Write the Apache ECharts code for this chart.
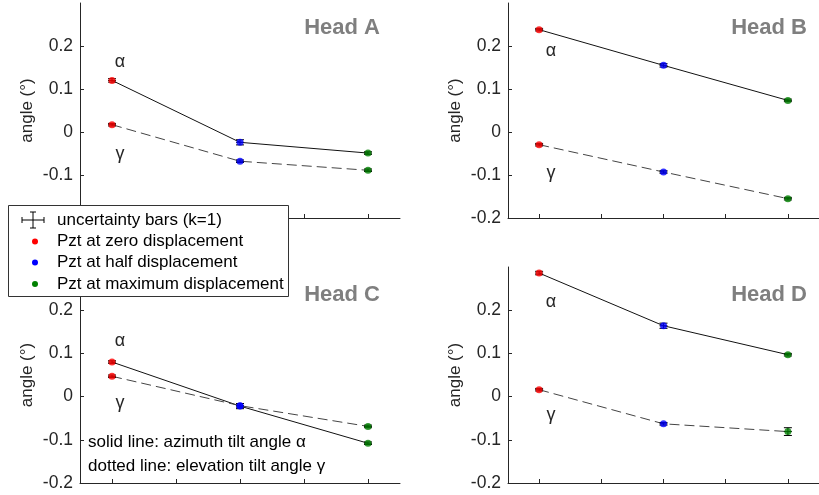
<!DOCTYPE html>
<html>
<head>
<meta charset="utf-8">
<script src="https://cdn.jsdelivr.net/npm/echarts@6/dist/echarts.min.js"></script>
<style>
  html, body { margin: 0; padding: 0; background: #fff; }
  #chart { width: 819px; height: 495px; }
</style>
</head>
<body>
<div id="chart"></div>
<script>
// x positions of the three pzt states
var xPos = [1, 3, 5];
var pointColors = ["#ff0000", "#0000ff", "#008000"];
var heads = ["Head A", "Head B", "Head C", "Head D"];
var yTicks = [-0.2, -0.1, 0, 0.1, 0.2];
var xTicks = [1, 2, 3, 4, 5];

// azimuth tilt alpha / elevation tilt gamma, with k=1 uncertainty
var alphaA = [0.12, -0.024, -0.049];
var gammaA = [0.017, -0.068, -0.089];
var errAlphaA = [0.004, 0.006, 0.003];
var errGammaA = [0.003, 0.003, 0.003];

var alphaB = [0.238, 0.155, 0.0735];
var gammaB = [-0.0295, -0.093, -0.155];
var errAlphaB = [0.003, 0.004, 0.003];
var errGammaB = [0.003, 0.003, 0.003];

var alphaC = [0.08, -0.022, -0.108];
var gammaC = [0.047, -0.021, -0.069];
var errAlphaC = [0.003, 0.006, 0.003];
var errGammaC = [0.003, 0.005, 0.003];

var alphaD = [0.286, 0.164, 0.097];
var gammaD = [0.016, -0.063, -0.081];
var errAlphaD = [0.004, 0.006, 0.003];
var errGammaD = [0.003, 0.003, 0.009];

var alphas = [alphaA, alphaB, alphaC, alphaD];
var gammas = [gammaA, gammaB, gammaC, gammaD];
var errAlphas = [errAlphaA, errAlphaB, errAlphaC, errAlphaD];
var errGammas = [errGammaA, errGammaB, errGammaC, errGammaD];

var font = "'Liberation Sans', Arial, sans-serif";
var ink = "#262626";

var grids = [
  { left: 80, top: 3, width: 320, height: 215 },
  { left: 508, top: 3, width: 320, height: 215 },
  { left: 80, top: 267, width: 320, height: 216 },
  { left: 508, top: 267, width: 320, height: 216 },
];

var xAxes = [], yAxes = [], series = [];

function errRender(params, api) {
  var x = api.value(0), y = api.value(1), e = api.value(2);
  var top = api.coord([x, y + e]);
  var bot = api.coord([x, y - e]);
  var st = { stroke: "#000", lineWidth: 1 };
  return {
    type: "group",
    children: [
      { type: "line", shape: { x1: top[0], y1: top[1], x2: bot[0], y2: bot[1] }, style: st },
      { type: "line", shape: { x1: top[0] - 4, y1: top[1], x2: top[0] + 4, y2: top[1] }, style: st },
      { type: "line", shape: { x1: bot[0] - 4, y1: bot[1], x2: bot[0] + 4, y2: bot[1] }, style: st },
      { type: "line", shape: { x1: top[0] - 4, y1: (top[1] + bot[1]) / 2, x2: top[0] + 4, y2: (top[1] + bot[1]) / 2 }, style: st },
    ],
  };
}

for (var i = 0; i < 4; i++) {
  xAxes.push({
    gridIndex: i, type: "value", min: 0.5, max: 5.5,
    axisLine: { onZero: false, lineStyle: { color: ink, width: 1 } },
    axisTick: { inside: true, length: 4, customValues: xTicks, lineStyle: { color: ink } },
    axisLabel: { show: false },
    splitLine: { show: false },
  });
  yAxes.push({
    gridIndex: i, type: "value", min: -0.2, max: 0.3,
    name: "angle (°)", nameLocation: "middle", nameGap: 44,
    nameTextStyle: { fontFamily: font, fontSize: 17, color: ink },
    axisLine: { show: true, onZero: false, lineStyle: { color: ink, width: 1 } },
    axisTick: { inside: true, length: 4, customValues: yTicks, lineStyle: { color: ink } },
    axisLabel: {
      customValues: yTicks, margin: 7, fontFamily: font, fontSize: 17.5, color: ink,
      formatter: function (v) { return String(Math.round(v * 10) / 10); },
    },
    splitLine: { show: false },
  });
  var a = alphas[i], g = gammas[i];
  series.push({
    type: "line", xAxisIndex: i, yAxisIndex: i, symbol: "none", z: 2,
    lineStyle: { color: "#111", width: 1 },
    data: xPos.map(function (x, j) { return [x, a[j]]; }),
  });
  series.push({
    type: "line", xAxisIndex: i, yAxisIndex: i, symbol: "none", z: 2,
    lineStyle: { color: "#444", width: 1, type: [10, 5] },
    data: xPos.map(function (x, j) { return [x, g[j]]; }),
  });
  var ea = errAlphas[i], eg = errGammas[i];
  series.push({
    type: "custom", xAxisIndex: i, yAxisIndex: i, z: 3, renderItem: errRender,
    data: xPos.map(function (x, j) { return [x, a[j], ea[j]]; })
      .concat(xPos.map(function (x, j) { return [x, g[j], eg[j]]; })),
  });
  series.push({
    type: "scatter", xAxisIndex: i, yAxisIndex: i, symbolSize: 7, z: 4,
    data: xPos.map(function (x, j) { return { value: [x, a[j]], itemStyle: { color: pointColors[j] } }; })
      .concat(xPos.map(function (x, j) { return { value: [x, g[j]], itemStyle: { color: pointColors[j] } }; })),
  });
}

// panel titles and greek labels
var headPos = [[380, 28], [807, 28], [380, 295], [807, 295]];
var alphaPos = [[120, 62], [551, 51], [120, 341], [551, 302]];
var gammaPos = [[120, 154], [551, 173], [120, 403], [551, 415]];
var graphics = [];
for (var k = 0; k < 4; k++) {
  graphics.push({
    type: "text", x: headPos[k][0], y: headPos[k][1], z: 10,
    style: { text: heads[k], font: "bold 22px " + font, fill: "#7f7f7f", align: "right", verticalAlign: "middle" },
  });
  graphics.push({
    type: "text", x: alphaPos[k][0], y: alphaPos[k][1], z: 10,
    style: { text: "α", font: "18px " + font, fill: ink, align: "center", verticalAlign: "middle" },
  });
  graphics.push({
    type: "text", x: gammaPos[k][0], y: gammaPos[k][1], z: 10,
    style: { text: "γ", font: "18px " + font, fill: ink, align: "center", verticalAlign: "middle" },
  });
}
graphics.push({
  type: "text", x: 88, y: 442, z: 10,
  style: { text: "solid line: azimuth tilt angle α", font: "17px " + font, fill: "#000", verticalAlign: "middle" },
});
graphics.push({
  type: "text", x: 88, y: 466, z: 10,
  style: { text: "dotted line: elevation tilt angle γ", font: "17px " + font, fill: "#000", verticalAlign: "middle" },
});

// legend box (drawn above panel A's axis)
var legendLabels = ["uncertainty bars (k=1)", "Pzt at zero displacement", "Pzt at half displacement", "Pzt at maximum displacement"];
var legendY = [220, 241.5, 262.5, 284];
var bar = { stroke: "#000", lineWidth: 1 };
graphics.push({ type: "rect", z: 50, shape: { x: 8.5, y: 205.5, width: 280, height: 91 }, style: { fill: "#fff", stroke: "#333", lineWidth: 1 } });
graphics.push({ type: "line", z: 51, shape: { x1: 22, y1: 220, x2: 44, y2: 220 }, style: bar });
graphics.push({ type: "line", z: 51, shape: { x1: 22, y1: 217, x2: 22, y2: 223 }, style: bar });
graphics.push({ type: "line", z: 51, shape: { x1: 44, y1: 217, x2: 44, y2: 223 }, style: bar });
graphics.push({ type: "line", z: 51, shape: { x1: 33, y1: 212, x2: 33, y2: 228 }, style: bar });
graphics.push({ type: "line", z: 51, shape: { x1: 30, y1: 212, x2: 36, y2: 212 }, style: bar });
graphics.push({ type: "line", z: 51, shape: { x1: 30, y1: 228, x2: 36, y2: 228 }, style: bar });
for (var m = 0; m < 4; m++) {
  if (m > 0) {
    graphics.push({ type: "circle", z: 51, shape: { cx: 35, cy: legendY[m], r: 3 }, style: { fill: pointColors[m - 1] } });
  }
  graphics.push({
    type: "text", z: 51, x: 57, y: legendY[m],
    style: { text: legendLabels[m], font: "17px " + font, fill: "#000", verticalAlign: "middle" },
  });
}

var myChart = echarts.init(document.getElementById("chart"));
myChart.setOption({
  animation: false,
  grid: grids,
  xAxis: xAxes,
  yAxis: yAxes,
  series: series,
  graphic: graphics,
});
</script>
</body>
</html>
